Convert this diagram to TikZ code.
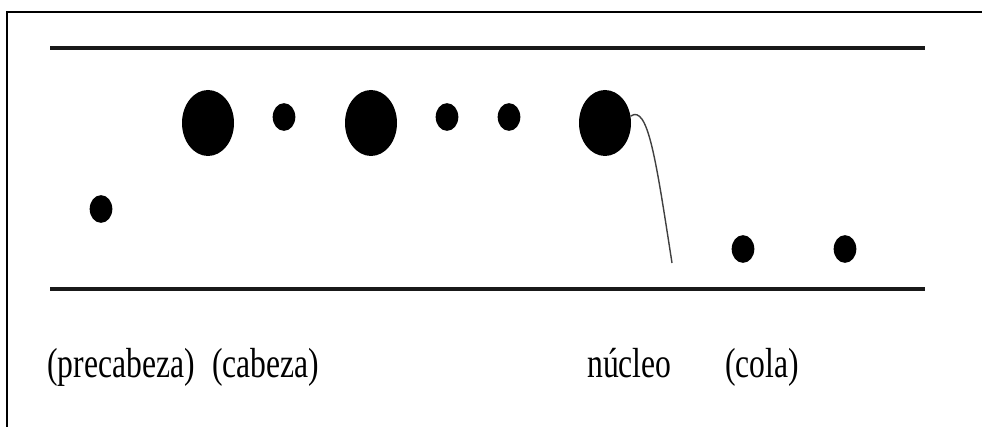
\documentclass[tikz,border=0pt]{standalone}
\usepackage{fontspec}
\setmainfont{Liberation Serif}
\usetikzlibrary{shapes.geometric}

\begin{document}
\begin{tikzpicture}[x=0.03cm, y=-0.03cm,
    bigdot/.style={ellipse, fill=black, inner sep=0pt, minimum width=1.56cm, minimum height=1.98cm},
    smalldot/.style={ellipse, fill=black, inner sep=0pt, minimum width=0.68cm, minimum height=0.83cm},
    tagtext/.style={anchor=base west, inner sep=0pt, font=\fontsize{27}{32}\selectfont}]
        \useasboundingbox (0,0) rectangle (982,427);
        % Frame
        \draw[line width=2pt] (7,427) -- (7,12) -- (982,12);
        % Rails
        \draw[line width=4.2pt, black!90] (50,48) -- (925,48);
        \draw[line width=4.2pt, black!90] (50,289) -- (925,289);
        % Syllables
        \node[smalldot] (pre) at (101,209) {};
        \node[bigdot] (head) at (208,123) {};
        \node[smalldot] (s1) at (284,117) {};
        \node[bigdot] (s2) at (371,123) {};
        \node[smalldot] (s3) at (447,117) {};
        \node[smalldot] (s4) at (509,117) {};
        \node[bigdot] (nuc) at (605,123) {};
        \node[smalldot] (tail1) at (743,249) {};
        \node[smalldot] (tail2) at (845,249) {};
        % Pitch fall
        \coordinate (fallend) at (672,263);
        \draw[line width=1.2pt, black!75] (nuc.15) .. controls (648,104) and (656,160) .. (fallend);
        % Labels
        \node[tagtext] (lpre) at (47,377) {\scalebox{1}[1.33]{(precabeza)}};
        \node[tagtext] (lhead) at (212,377) {\scalebox{1}[1.33]{(cabeza)}};
        \node[tagtext] (lnuc) at (587,377) {\scalebox{1}[1.33]{núcleo}};
        \node[tagtext] (ltail) at (725,377) {\scalebox{1}[1.33]{(cola)}};
    \end{tikzpicture}
\end{document}
